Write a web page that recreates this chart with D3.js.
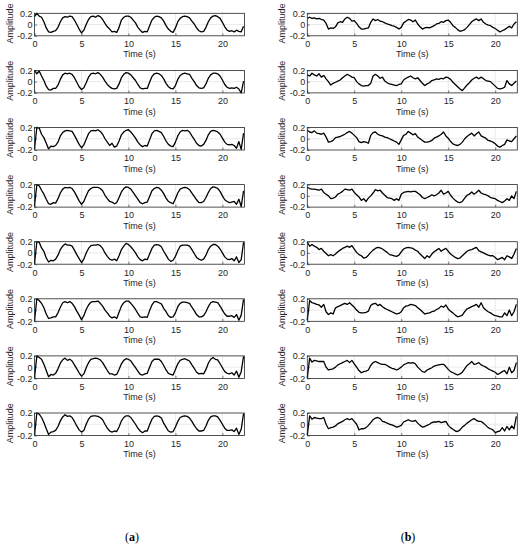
<!DOCTYPE html>
<html>
<head>
<meta charset="utf-8">
<script src="https://cdn.jsdelivr.net/npm/d3@7"></script>
<style>
  body { margin: 0; background: #fff; }
</style>
</head>
<body>
<div id="chart"></div>
<script>
// Sample period of the traces (s)
var DT = 0.25;

// Amplitudes in units of 0.01, one sample every DT seconds (t = 0 ... 22.25 s)
// column (a)
var a1 = [14,20,15,13, 5,-6,-13,-14, -12,-11,-5,5, 12,14,13,15, 14,8,0,-8, -15,-10,0,9, 14,15,13,16, 14,9,2,-4,
    -8,-13,-12,-14, -5,8,13,15, 15,13,8,3, -5,-10,-14,-12, -13,-2,8,13, 15,14,12,6, -2,-8,-12,-14, -6,5,11,14,
    15,14,12,6, 1,-6,-11,-13, -12,-5,5,12, 15,16,14,11, 4,-4,-10,-12, -11,-13,-10,-12, -13,-3];
var a2 = [20,14,19,10, 2,-8,-14,-15, -12,-12,-6,4, 12,15,14,15, 13,7,-1,-9, -14,-11,-2,8, 14,15,14,16, 13,8,1,-5,
    -9,-12,-13,-12, -4,7,13,16, 15,12,7,2, -5,-11,-13,-12, -12,-1,9,14, 15,14,11,5, -3,-9,-12,-13, -7,4,11,14,
    15,14,13,6, 0,-7,-11,-12, -11,-4,6,12, 15,15,14,10, 3,-5,-10,-12, -11,-12,-10,-13, -20,1];
var a3 = [-18,20,19,8, 2,-8,-18,-13, -14,-12,-6,5, 11,14,15,14, 13,6,-2,-10, -16,-11,-1,9, 14,15,14,16, 13,8,0,-6,
    -12,-8,-15,-13, -4,7,12,15, 16,12,7,1, -6,-11,-14,-12, -13,-2,9,14, 15,13,11,4, -4,-10,-13,-14, -6,5,12,15,
    14,15,12,5, -1,-8,-12,-13, -10,-3,7,13, 15,14,12,8, 1,-6,-10,-11, -10,-12,-17,-5, -19,10];
var a4 = [-18,20,18,10, 3,-6,-14,-15, -12,-13,-5,5, 12,15,14,15, 13,7,-1,-9, -15,-10,0,9, 13,15,15,15, 13,9,1,-5,
    -10,-11,-14,-12, -3,7,13,16, 15,12,6,0, -6,-12,-14,-12, -11,-1,9,13, 15,14,10,4, -4,-10,-12,-14, -5,5,12,14,
    15,14,11,5, -1,-7,-12,-12, -10,-3,6,13, 16,15,13,8, 0,-7,-10,-12, -11,-10,-15,-6, -19,9];
var a5 = [-19,20,19,9, 3,-9,-16,-13, -14,-11,-4,6, 12,16,14,14, 12,5,-3,-10, -17,-11,0,8, 13,14,14,15, 13,8,0,-6,
    -11,-13,-11,-14, -5,6,12,17, 15,11,6,0, -7,-12,-14,-11, -12,-2,8,14, 15,14,11,3, -4,-11,-15,-13, -6,4,12,14,
    14,14,12,6, -1,-8,-11,-13, -11,-4,6,12, 15,15,12,7, 0,-7,-11,-12, -10,-14,-7,-17, -12,19];
var a6 = [-19,20,17,12, 4,-7,-15,-14, -12,-12,-5,5, 13,15,13,15, 12,6,-2,-9, -17,-10,1,9, 14,15,15,16, 12,7,0,-5,
    -11,-14,-12,-15, -4,7,13,16, 16,12,7,1, -6,-12,-13,-12, -13,-1,9,15, 15,13,11,3, -3,-10,-13,-12, -5,6,12,14,
    14,13,12,5, -1,-8,-12,-12, -10,-3,6,13, 15,14,13,7, 0,-7,-11,-11, -10,-13,-8,-18, -9,19];
var a7 = [-19,20,17,14, 5,-6,-17,-13, -14,-11,-3,7, 13,16,12,14, 11,4,-3,-10, -16,-12,-1,8, 14,15,16,15, 13,8,1,-6,
    -12,-12,-14,-13, -4,6,12,15, 14,11,5,-1, -7,-13,-14,-12, -11,0,10,14, 14,14,10,3, -5,-11,-13,-14, -4,6,12,14,
    15,13,11,4, -2,-9,-12,-11, -12,-4,7,14, 17,14,13,6, -1,-8,-11,-12, -10,-14,-7,-18, -8,19];
var a8 = [-19,20,18,12, 3,-8,-18,-14, -13,-11,-4,6, 13,17,14,15, 12,5,-3,-10, -14,-11,0,9, 14,15,15,14, 12,8,0,-7,
    -12,-14,-12,-13, -5,6,12,15, 15,12,6,0, -7,-12,-15,-12, -12,-1,9,14, 15,14,11,2, -5,-12,-14,-13, -5,5,12,14,
    15,14,11,5, -2,-8,-12,-12, -11,-3,7,13, 15,15,13,7, 0,-7,-11,-11, -10,-13,-7,-18, -9,19];

// column (b)
var b1 = [11,13,11,12, 10,11,9,8, 2,-8,-6,-7, -4,3,5,4, 10,13,11,6, 7,2,-4,-8, -8,-7,-6,4, 10,7,9,6,
    5,3,1,0, -2,-3,-5,-8, -5,3,6,9, 8,5,8,1, -4,-8,-6,-5, -6,-4,-2,1, 2,5,4,7, 8,4,-2,-5,
    -9,-12,-11,-9, -5,0,5,8, 10,7,10,4, 1,-1,-2,-5, -7,-10,-13,-11, -9,-6,-3,-6, 1,5];
var b2 = [12,10,15,12, 10,14,8,11, 5,0,-6,-3, -1,1,3,7, 10,13,11,8, 7,0,-4,-7, -8,-7,-7,-3, 10,13,10,6,
    8,1,-2,-4, -5,-6,-7,-5, -4,3,6,8, 10,7,5,7, 2,-3,-7,-4, -2,2,3,5, 4,6,5,8, 7,4,-1,-5,
    -9,-13,-16,-11, -6,-2,3,6, 8,5,8,5, 2,1,0,-4, -8,-12,-13,-12, -10,2,-4,-7, -3,1];
var b3 = [15,12,11,14, 10,9,8,10, 3,-6,-5,-3, 2,3,4,6, 8,11,13,10, 6,2,-5,-7, -5,-6,-8,6, 11,12,8,6,
    5,3,2,0, -2,-4,-6,-10, -2,6,8,13, 10,7,9,3, 0,-3,-6,-6, -5,-3,1,3, 5,8,12,5, 1,-5,-9,-11,
    -12,-10,-6,0, 4,7,10,5, 9,12,5,3, 1,-3,-4,-6, -9,-13,-15,-12, -10,-2,-4,-5, 0,5];
var b4 = [15,13,12,12, 11,10,12,6, 3,0,-5,-4, -2,3,5,8, 12,11,10,12, 6,2,-2,-8, -5,-10,-4,0, 5,11,9,10,
    5,1,-3,-4, -5,-8,-5,-8, 3,6,7,8, 7,8,8,5, 2,-3,-5,-3, -1,2,0,2, 5,10,3,5, 8,1,-4,-8,
    -11,-12,-10,-4, 1,3,7,3, 6,10,5,3, 2,0,-3,-4, -5,-8,-10,-12, -9,-5,-8,0, -5,8];
var b5 = [19,12,15,12, 10,6,8,3, -1,-5,-3,-5, -2,2,5,8, 10,12,10,13, 7,1,-3,-5, -9,-8,-4,1, 5,8,10,9,
    7,4,1,-3, -4,-5,-6,-4, 2,7,9,10, 9,8,5,3, -2,-6,-10,-5, -8,-2,2,5, 8,3,6,8, 3,-2,-5,-8,
    -10,-9,-5,-1, 3,5,6,8, 10,4,2,0, -2,-4,-5,-5, -8,-12,-10,-8, -12,-5,-7,-10, -2,8];
var b6 = [-18,17,13,12, 10,9,5,10, -3,-8,-5,-7, 4,6,8,10, 12,10,13,9, 5,0,-4,-5, -5,-4,-2,8, 11,12,8,10,
    6,3,1,-1, -3,-5,-7,-6, -3,4,7,8, 10,9,8,4, 1,-3,-7,-6, -5,-3,-2,1, 3,7,5,9, 2,-2,-5,-9,
    -12,-11,-9,-3, 2,4,6,8, 10,5,13,4, 0,-3,-5,-8, -10,-11,-12,-12, -5,-10,0,-10, -3,10];
var b7 = [-19,16,9,12, 11,10,10,10, 0,-5,-4,-3, 0,4,6,8, 10,12,8,12, 6,0,-6,-10, -8,-7,-5,3, 8,10,8,6,
    5,5,3,0, -2,-3,-5,-3, 0,4,6,8, 7,8,6,0, -4,-8,-9,-5, -3,-1,2,3, 4,5,5,1, -4,-8,-10,-12,
    -14,-12,-9,-3, 3,6,10,5, 6,8,4,2, 0,-3,-5,-7, -9,-13,-11,-8, -6,-12,0,-10, -6,8];
var b8 = [-19,15,9,12, 11,10,10,12, 0,-8,-6,-5, -3,1,3,5, 8,10,8,10, 5,0,-10,-8, -8,-6,-2,3, 8,11,12,10,
    5,4,2,0, -1,-3,-5,-4, -2,4,6,8, 6,5,7,2, -2,-5,-4,-2, 0,3,4,4, 5,3,4,5, -2,-6,-9,-12,
    -13,-10,-5,-2, 2,5,8,10, 7,5,5,2, -2,-6,-8,-10, -15,-13,-12,-6, -12,-4,-10,-3, -8,14];

var columns = [[a1, a2, a3, a4, a5, a6, a7, a8], [b1, b2, b3, b4, b5, b6, b7, b8]];

// Axis labels and ticks
var xTicks = [0, 5, 10, 15, 20];
var yTicks = [-0.2, 0, 0.2];
var xLabel = 'Time (s)';
var yLabel = 'Amplitude';
var captions = ['a', 'b'];

// Layout
var colX = [34.5, 307.3],
    plotW = 210,
    plotH = 22.5,
    top0 = 13.3,
    pitch = 57.1;

var font = '"Liberation Sans", Arial, Helvetica, sans-serif';
var ink = '#262626';

var svg = d3.select('#chart').append('svg')
    .attr('width', 525)
    .attr('height', 550)
    .style('display', 'block');

svg.append('rect').attr('width', 525).attr('height', 550).attr('fill', '#fff');

var y = d3.scaleLinear().domain([-0.2, 0.2]).range([plotH, 0]);

columns.forEach(function (panels, c) {
    var x = d3.scaleLinear().domain([0, 22.35]).range([0, plotW]);

    var line = d3.line()
        .x(function (d, i) { return x(i * DT); })
        .y(function (d) { return y(d / 100); });

    panels.forEach(function (vals, r) {
        var g = svg.append('g')
            .attr('transform', 'translate(' + colX[c] + ',' + (top0 + r * pitch) + ')');

        // grid lines
        g.selectAll('.gx').data(xTicks.slice(1)).enter().append('line')
            .attr('x1', function (d) { return x(d); }).attr('x2', function (d) { return x(d); })
            .attr('y1', 0).attr('y2', plotH)
            .attr('stroke', '#dcdcdc').attr('stroke-width', 0.6);
        g.selectAll('.gy').data([0]).enter().append('line')
            .attr('x1', 0).attr('x2', plotW)
            .attr('y1', function (d) { return y(d); }).attr('y2', function (d) { return y(d); })
            .attr('stroke', '#dcdcdc').attr('stroke-width', 0.6);

        // the trace
        g.append('path')
            .datum(vals)
            .attr('d', line)
            .attr('fill', 'none')
            .attr('stroke', '#000')
            .attr('stroke-width', 1.3)
            .attr('stroke-linejoin', 'round');

        // x axis
        var gx = g.append('g')
            .attr('transform', 'translate(0,' + plotH + ')')
            .call(d3.axisBottom(x).tickValues(xTicks).tickSizeInner(-2.5).tickSizeOuter(0).tickPadding(5));
        // y axis
        var gy = g.append('g')
            .call(d3.axisLeft(y).tickValues(yTicks).tickSizeInner(-2.5).tickSizeOuter(0).tickPadding(2)
                .tickFormat(function (d) { return d === 0 ? '0' : String(d); }));

        [gx, gy].forEach(function (a) {
            a.select('.domain').remove();
            a.attr('font-family', font).attr('font-size', 9);
            a.selectAll('line').attr('stroke', ink).attr('stroke-width', 0.6);
            a.selectAll('text').attr('fill', ink);
        });

        // axes box
        g.append('rect')
            .attr('width', plotW).attr('height', plotH)
            .attr('fill', 'none')
            .attr('stroke', ink)
            .attr('stroke-width', 0.8);

        g.append('text')
            .attr('x', plotW / 2).attr('y', 44.2)
            .attr('text-anchor', 'middle')
            .attr('font-family', font).attr('font-size', 9).attr('fill', ink)
            .text(xLabel);

        g.append('text')
            .attr('transform', 'translate(-22,' + (plotH / 2 - 1) + ') rotate(-90)')
            .attr('text-anchor', 'middle')
            .attr('font-family', font).attr('font-size', 9).attr('fill', ink)
            .text(yLabel);
    });
});

// sub-figure captions
var capX = [132, 408];
captions.forEach(function (cap, c) {
    var t = svg.append('text')
        .attr('x', capX[c]).attr('y', 541)
        .attr('text-anchor', 'middle')
        .attr('font-family', '"Liberation Serif", "DejaVu Serif", serif')
        .attr('font-size', 12).attr('fill', '#000');
    t.append('tspan').text('(');
    t.append('tspan').attr('font-weight', 'bold').text(cap);
    t.append('tspan').text(')');
});
</script>
</body>
</html>
